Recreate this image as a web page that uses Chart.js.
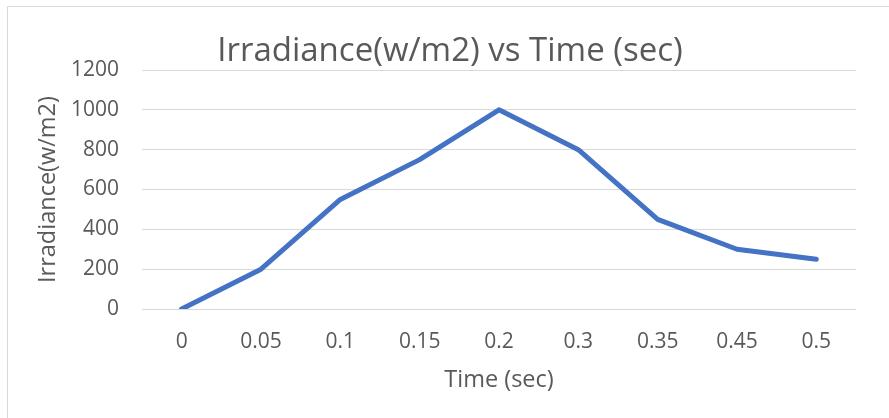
<!DOCTYPE html>
<html>
<head>
<meta charset="utf-8">
<script src="https://cdn.jsdelivr.net/npm/chart.js@4"></script>
<style>
  html, body { margin: 0; padding: 0; background: #fff; }
  #wrap { width: 889px; height: 418px; position: relative; }
</style>
</head>
<body>
<div id="wrap"><canvas id="c" width="889" height="418"></canvas></div>
<script>
const categories = ["0", "0.05", "0.1", "0.15", "0.2", "0.3", "0.35", "0.45", "0.5"];
const irradiance = [0, 200, 550, 750, 1000, 800, 450, 300, 250];
const chartTitle = "Irradiance(w/m2) vs Time (sec)";
const xTitle = "Time (sec)";
const yTitle = "Irradiance(w/m2)";

const textColor = "#595959";
const gridColor = "#d9d9d9";
const fontFamily = "'Open Sans', sans-serif";

const framePlugin = {
  id: 'frame',
  beforeDraw(chart) {
    const ctx = chart.ctx;
    ctx.save();
    ctx.fillStyle = '#ffffff';
    ctx.fillRect(0, 0, chart.width, chart.height);
    ctx.strokeStyle = gridColor;
    ctx.lineWidth = 1;
    ctx.strokeRect(7.5, 6.5, chart.width + 20, chart.height + 20);
    ctx.restore();
  },
  afterLayout(chart) {
    const tb = chart.titleBlock;
    if (tb) {
      const d = 22;
      tb.left += d;
      tb.right += d;
    }
  }
};

new Chart(document.getElementById('c'), {
  type: 'line',
  data: {
    labels: categories,
    datasets: [{
      data: irradiance,
      borderColor: '#4472C4',
      backgroundColor: '#4472C4',
      borderWidth: 5,
      pointRadius: 0,
      tension: 0,
      borderCapStyle: 'round',
      borderJoinStyle: 'round',
      fill: false
    }]
  },
  options: {
    responsive: false,
    animation: false,
    devicePixelRatio: 1,
    layout: { padding: { left: 0, right: 33, top: 0, bottom: 24 } },
    plugins: {
      legend: { display: false },
      tooltip: { enabled: false },
      title: {
        display: true,
        text: chartTitle,
        color: textColor,
        font: { family: fontFamily, size: 33, weight: 'normal', lineHeight: 1.2 },
        padding: { top: 32, bottom: -1.6 }
      }
    },
    scales: {
      x: {
        type: 'category',
        offset: true,
        grid: { display: false, drawTicks: false },
        border: { display: false },
        ticks: {
          color: textColor,
          font: { family: fontFamily, size: 21 },
          padding: 20,
          maxRotation: 0,
          autoSkip: false
        },
        title: {
          display: true,
          text: xTitle,
          color: textColor,
          font: { family: fontFamily, size: 23.5, lineHeight: 1.2 },
          padding: { top: 0, bottom: 0 }
        },
        afterFit(scale) { scale.height = 85; }
      },
      y: {
        min: 0,
        max: 1200,
        ticks: {
          stepSize: 200,
          color: textColor,
          font: { family: fontFamily, size: 21 },
          padding: 23,
          callback: (v) => String(v)
        },
        grid: { color: gridColor, lineWidth: 1, drawTicks: false },
        border: { display: false },
        title: {
          display: true,
          text: yTitle,
          color: textColor,
          font: { family: fontFamily, size: 23.5, lineHeight: 1.2 },
          padding: { top: 34, bottom: 0 }
        },
        afterFit(scale) { scale.width = 142; }
      }
    }
  },
  plugins: [framePlugin]
});
</script>
</body>
</html>
